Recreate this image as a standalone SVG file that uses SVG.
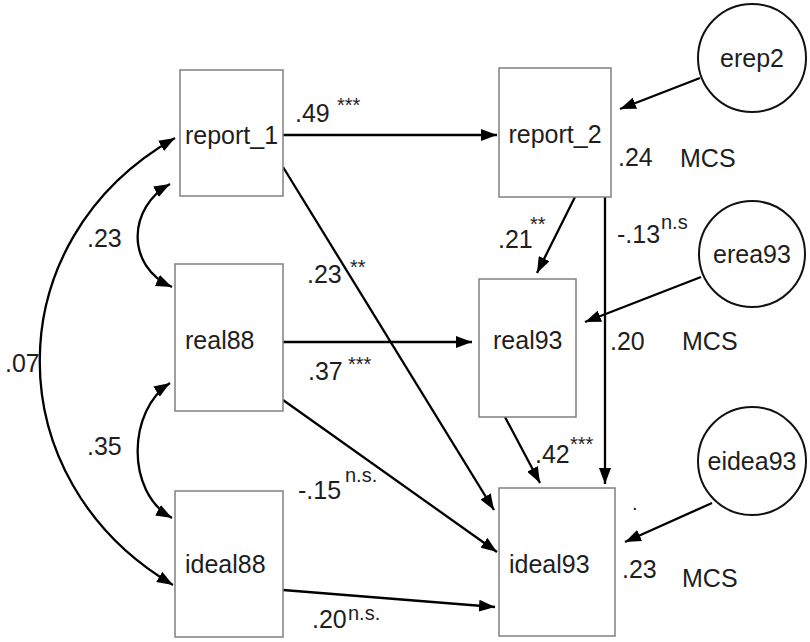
<svg xmlns="http://www.w3.org/2000/svg" width="810" height="642" viewBox="0 0 810 642">
<style>
.box{fill:#fff;stroke:#808080;stroke-width:1.5}
.circ{fill:#fff;stroke:#111;stroke-width:2}
.lbl{font-family:"Liberation Sans",Arial,sans-serif;font-size:25px;fill:#1e1e1e}
.num{font-family:"Liberation Sans",Arial,sans-serif;font-size:25px;fill:#1e1e1e}
.sup{font-family:"Liberation Sans",Arial,sans-serif;font-size:20px;fill:#1e1e1e}
.c{text-anchor:middle}
.ln{fill:none;stroke:#000;stroke-width:2.3;marker-end:url(#ah)}
.cv{fill:none;stroke:#000;stroke-width:2.3;marker-end:url(#ah);marker-start:url(#ah)}
</style>
<defs>
<marker id="ah" viewBox="0 0 16 12" refX="16" refY="6" markerWidth="16" markerHeight="12" markerUnits="userSpaceOnUse" orient="auto-start-reverse">
<path d="M0,0 L16,6 L0,12 z" fill="#000"/>
</marker>
</defs>
<rect width="810" height="642" fill="#fff"/>
<g id="connectors">
<path class="ln" d="M283,135 L497,135"/>
<path class="ln" d="M283,167 L494,510"/>
<path class="ln" d="M283,342 L472,342"/>
<path class="ln" d="M283,400 L497,552"/>
<path class="ln" d="M283,590 L495,607"/>
<path class="ln" d="M575,197 L537,273"/>
<path class="ln" d="M605,197 L605,484"/>
<path class="ln" d="M505,417 L540,483"/>
<path class="ln" d="M700,78 L620,109"/>
<path class="ln" d="M701,277 L585,322"/>
<path class="ln" d="M712,503 L625,542"/>
<path class="cv" d="M170,184 C128,207 125,266 172,287"/>
<path class="cv" d="M170,383 C128,410 125,492 172,518"/>
<path class="cv" d="M175,138 C-5,240 -5,480 173,585"/>
</g>
<g id="report_1"><rect class="box" x="180" y="70" width="103" height="126"/><text class="lbl c" x="231.5" y="144">report_1</text></g>
<g id="real88"><rect class="box" x="175" y="264" width="108" height="147"/><text class="lbl" x="185" y="349">real88</text></g>
<g id="ideal88"><rect class="box" x="175" y="491" width="108" height="146"/><text class="lbl" x="185" y="573">ideal88</text></g>
<g id="report_2"><rect class="box" x="499" y="68" width="112" height="129"/><text class="lbl c" x="555" y="143">report_2</text></g>
<g id="real93"><rect class="box" x="479" y="279" width="97" height="138"/><text class="lbl" x="493" y="349">real93</text></g>
<g id="ideal93"><rect class="box" x="499" y="488" width="116" height="148"/><text class="lbl" x="509" y="573">ideal93</text></g>
<g id="erep2"><circle class="circ" cx="752" cy="58" r="54"/><text class="lbl c" x="752" y="67">erep2</text></g>
<g id="erea93"><circle class="circ" cx="752" cy="254" r="53"/><text class="lbl c" x="752" y="263">erea93</text></g>
<g id="eidea93"><circle class="circ" cx="752" cy="461" r="54"/><text class="lbl c" x="752" y="470">eidea93</text></g>
<g id="labels">
<text class="num" x="295" y="122">.49</text><text class="sup" x="337" y="112">***</text>
<text class="num" x="618" y="166">.24</text><text class="num" x="680" y="167">MCS</text>
<text class="num" x="498" y="248">.21</text><text class="sup" x="530" y="231">**</text>
<text class="num" x="617" y="243">-.13</text><text class="sup" x="661" y="229">n.s</text>
<text class="num" x="307" y="283">.23</text><text class="sup" x="350" y="274">**</text>
<text class="num" x="308" y="380">.37</text><text class="sup" x="348" y="371">***</text>
<text class="num" x="610" y="350">.20</text><text class="num" x="682" y="350">MCS</text>
<text class="num" x="535" y="463">.42</text><text class="sup" x="570" y="451">***</text>
<text class="num" x="298" y="499">-.15</text><text class="sup" x="345" y="482">n.s.</text>
<text class="num" x="312" y="628">.20</text><text class="sup" x="348" y="620">n.s.</text>
<text class="num" x="622" y="578">.23</text><text class="num" x="682" y="587">MCS</text>
<text class="sup" x="632" y="510">.</text>
<text class="num" x="5" y="372">.07</text>
<text class="num" x="87" y="247">.23</text>
<text class="num" x="87" y="455">.35</text>
</g>
</svg>
